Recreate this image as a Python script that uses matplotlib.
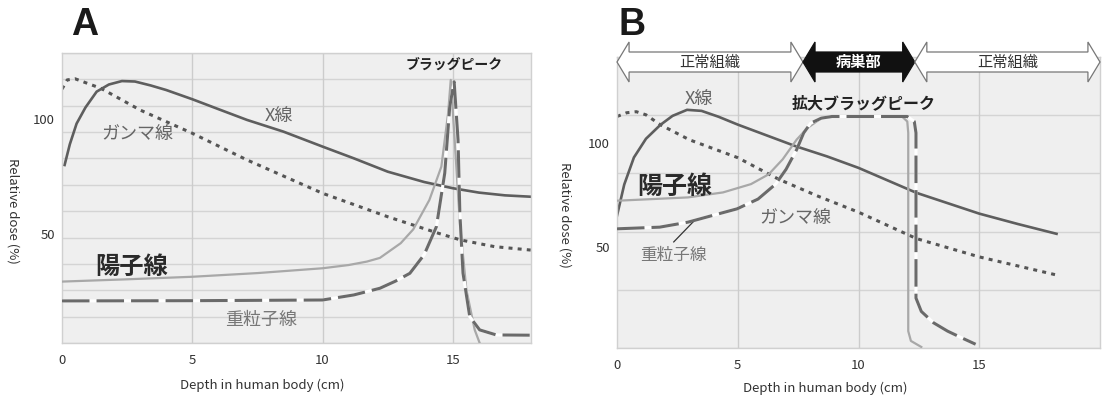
import matplotlib
matplotlib.use("Agg")
import matplotlib.pyplot as plt
import matplotlib.transforms as mtransforms
from matplotlib.patches import Polygon
import numpy as np

plt.rcParams['font.family'] = ['Noto Sans CJK JP', 'DejaVu Sans']

# ---------------- Panel A data (depth cm, relative dose %) ----------------
a_xray_x = [0.1, 0.3, 0.56, 0.9, 1.33, 1.8, 2.3, 2.8, 3.4, 4.0, 5.0, 6.0, 7.1, 8.5, 10.0, 11.2, 12.5, 13.9, 15.0, 16.0, 17.0, 18.0]
a_xray_y = [80, 89, 98, 105, 111.9, 115, 116.5, 116.3, 114.6, 112.6, 108.6, 104.3, 99.6, 94.5, 88, 82.9, 77.1, 72.6, 69.9, 68.0, 66.8, 66.2]

a_gamma_x = [0.0, 0.2, 0.5, 1.5, 3.0, 5.0, 7.1, 10.0, 12.5, 14.45, 15.3, 16.6, 18.0]
a_gamma_y = [113, 117, 117.5, 113.3, 103.9, 93.8, 82.2, 67.7, 57.5, 50.3, 47.4, 44.5, 43]

a_proton_x = [0.0, 2.5, 5.0, 7.5, 10.0, 11.0, 11.7, 12.2, 12.5, 13.0, 13.48, 14.1, 14.56, 14.82, 14.92, 15.07, 15.27, 15.52, 15.84, 16.03]
a_proton_y = [29.3, 30.3, 31.4, 33, 35.1, 36.5, 38, 39.6, 42, 46, 52, 64.8, 79.3, 102.6, 117, 90.9, 54.8, 25.7, 8.3, 2.6]

a_heavy_x = [0.0, 5.0, 10.0, 11.2, 12.2, 12.8, 13.35, 13.9, 14.37, 14.69, 14.88, 15.05, 15.2, 15.27, 15.39, 15.65, 16.03, 16.67, 17.95]
a_heavy_y = [20.9, 21, 21.3, 23.5, 26.4, 29.5, 32.9, 41, 53.2, 76.5, 105.3, 116.2, 90.9, 59, 33, 14, 8.3, 6.1, 6]

# ---------------- Panel B data ----------------
b_xray_x = [0.0, 0.3, 0.7, 1.2, 1.8, 2.3, 2.9, 3.5, 4.2, 5.0, 6.2, 7.4, 8.7, 10.0, 11.2, 12.4, 13.7, 15.0, 16.6, 18.2]
b_xray_y = [65, 80, 93, 102, 108.7, 113, 115.9, 115.4, 112.6, 108.8, 103.6, 98.4, 93.5, 88, 82, 76, 71, 66, 61, 56.3]

b_gamma_x = [0.0, 0.4, 0.8, 1.2, 1.8, 3.0, 5.0, 6.7, 8.3, 10.0, 12.4, 15.0, 18.2]
b_gamma_y = [112.7, 114.5, 115, 113.5, 108.7, 101.5, 92.9, 82.5, 74.5, 66.7, 54, 45.2, 36.5]

b_proton_x = [0.0, 2.94, 4.39, 5.55, 6.28, 6.86, 7.44, 7.88, 8.46, 9.04, 11.8, 12.02, 12.06, 12.06, 12.17, 12.6]
b_proton_y = [72.2, 73.8, 76.2, 80.2, 84.9, 92.1, 101.6, 107.1, 111.9, 112.7, 112.7, 110.3, 104.8, 9.5, 4.8, 1.9]

b_heavy_x = [0.0, 1.77, 2.94, 3.95, 4.97, 5.84, 6.57, 7.0, 7.44, 7.73, 8.02, 8.46, 8.9, 12.02, 12.31, 12.38, 12.38, 12.6, 13.11, 13.69, 14.27, 14.85]
b_heavy_y = [58.7, 59.5, 61.9, 65.1, 68.3, 73, 80.2, 87.3, 96.8, 104.8, 109.5, 111.9, 112.7, 112.7, 110.3, 104.8, 25.4, 19, 13.5, 9.5, 6.3, 3.2]

# region bands for panel B (depth cm)
regions = ["正常組織", "病巣部", "正常組織"]
region_edges = [0.0, 7.7, 12.33, 20.0]

x_ticks = [0, 5, 10, 15]
y_ticks = [50, 100]

W, H = 1107, 398
fig = plt.figure(figsize=(W / 100, H / 100), dpi=100)

BG = '#efefef'
GRID = '#d4d4d4'
C_X = '#5e5e5e'
C_G = '#555555'
C_P = '#a8a8a8'
C_H = '#6a6a6a'


def px_axes(l, r, t, b):
    return [l / W, 1 - b / H, (r - l) / W, (b - t) / H]


def style_axes(ax, xlim, ylim, nh):
    ax.set_facecolor(BG)
    ax.set_xlim(*xlim)
    ax.set_ylim(*ylim)
    for yv in np.linspace(ylim[0], ylim[1], nh):
        ax.axhline(yv, color=GRID, lw=1.0, zorder=0.5)
    for xv in x_ticks[1:]:
        ax.axvline(xv, color='#cccccc', lw=1.0, zorder=0.5)
    ax.set_xticks(x_ticks)
    ax.set_yticks(y_ticks)
    ax.tick_params(length=0, labelsize=9.5, colors='#333333', pad=8)
    ax.tick_params(axis='y', pad=5)
    for sp in ax.spines.values():
        sp.set_color('#d0d0d0')
        sp.set_linewidth(1.0)


def draw_heavy(ax, x, y):
    ax.plot(x, y, color='white', lw=2.2, zorder=3, solid_capstyle='butt')
    ax.plot(x, y, color=C_H, lw=2.2, dashes=(9, 2.3), zorder=3.1, dash_capstyle='butt')


# ---------------- Panel A ----------------
axA = fig.add_axes(px_axes(62, 531, 53, 343))
style_axes(axA, (0, 18), (2.6, 128.7), 12)
axA.plot(a_gamma_x, a_gamma_y, color=C_G, lw=2.2, dashes=(1.3, 1.7), zorder=2)
axA.plot(a_xray_x, a_xray_y, color=C_X, lw=1.9, zorder=2.5)
axA.plot(a_proton_x, a_proton_y, color=C_P, lw=1.6, zorder=2.6)
draw_heavy(axA, a_heavy_x, a_heavy_y)

axA.text(15.06, 123.5, "ブラッグピーク", fontsize=10, color='#222222', ha='center', va='center', fontweight='bold')
axA.text(8.33, 101, "X線", fontsize=13, color='#666666', ha='center', va='center')
axA.text(2.88, 93, "ガンマ線", fontsize=13, color='#666666', ha='center', va='center')
axA.text(2.68, 35.8, "陽子線", fontsize=17.5, color='#2a2a2a', ha='center', va='center', fontweight='bold')
axA.text(7.65, 12.6, "重粒子線", fontsize=13, color='#777777', ha='center', va='center')

fig.text(262 / W, 1 - 385 / H, "Depth in human body (cm)", fontsize=9.5, color='#333333', ha='center', va='center')
fig.text(13 / W, 1 - 211 / H, "Relative dose (%)", fontsize=9.5, color='#333333', ha='center', va='center', rotation=270)
fig.text(85 / W, 1 - 25 / H, "A", fontsize=27, fontweight='bold', color='#1a1a1a', ha='center', va='center', family=['Liberation Sans'])

# ---------------- Panel B ----------------
axB = fig.add_axes(px_axes(617, 1100, 57, 348))
style_axes(axB, (0, 20), (1.4, 141.3), 6)
axB.plot(b_gamma_x, b_gamma_y, color=C_G, lw=2.2, dashes=(1.3, 1.7), zorder=2)
axB.plot(b_xray_x, b_xray_y, color=C_X, lw=1.9, zorder=2.5)
axB.plot(b_proton_x, b_proton_y, color=C_P, lw=1.6, zorder=2.6)
draw_heavy(axB, b_heavy_x, b_heavy_y)

axB.text(3.37, 120.6, "X線", fontsize=13, color='#666666', ha='center', va='center')
axB.text(10.2, 119, "拡大ブラッグピーク", fontsize=11.5, color='#222222', ha='center', va='center', fontweight='bold')
axB.text(2.4, 78.6, "陽子線", fontsize=18, color='#2a2a2a', ha='center', va='center', zorder=4, fontweight='bold')
axB.text(7.37, 63.5, "ガンマ線", fontsize=13, color='#666666', ha='center', va='center')
axB.text(2.35, 46, "重粒子線", fontsize=12, color='#777777', ha='center', va='center')
axB.plot([2.35, 3.15], [52.4, 62], color='#333333', lw=0.9, zorder=3)

fig.text(825 / W, 1 - 388 / H, "Depth in human body (cm)", fontsize=9.5, color='#333333', ha='center', va='center')
fig.text(565 / W, 1 - 215 / H, "Relative dose (%)", fontsize=9.5, color='#333333', ha='center', va='center', rotation=270)
fig.text(632 / W, 1 - 25 / H, "B", fontsize=27, fontweight='bold', color='#1a1a1a', ha='center', va='center', family=['Liberation Sans'])

# region arrows across the top of panel B
trans = mtransforms.blended_transform_factory(axB.transData, fig.transFigure)
top, bot = 1 - 42 / H, 1 - 82 / H
s_top, s_bot = 1 - 52 / H, 1 - 72 / H
mid = (top + bot) / 2
hl = 0.5
for i, name in enumerate(regions):
    x0, x1 = region_edges[i], region_edges[i + 1]
    pts = [(x0, mid), (x0 + hl, top), (x0 + hl, s_top), (x1 - hl, s_top), (x1 - hl, top),
           (x1, mid), (x1 - hl, bot), (x1 - hl, s_bot), (x0 + hl, s_bot), (x0 + hl, bot)]
    dark = (name == "病巣部")
    poly = Polygon(pts, closed=True, transform=trans, clip_on=False,
                   facecolor='#111111' if dark else 'white',
                   edgecolor='#111111' if dark else '#777777', lw=0.9, zorder=5)
    fig.add_artist(poly)
    fig.text((x0 + x1) / 2, mid, name, transform=trans, ha='center', va='center',
             fontsize=11, color='white' if dark else '#333333',
             fontweight='bold' if dark else 'normal', zorder=6)

fig.savefig("out.png", dpi=100, facecolor='white')
